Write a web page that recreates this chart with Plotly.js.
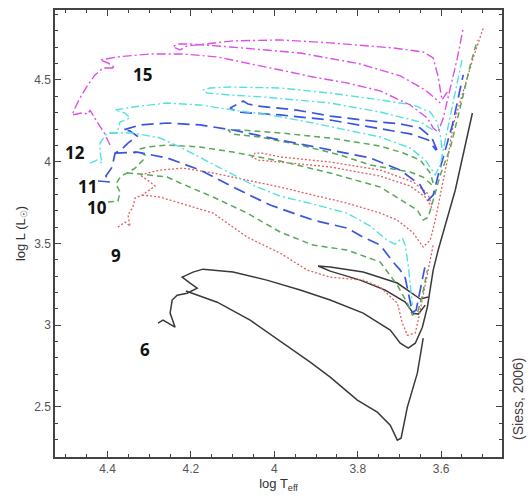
<!DOCTYPE html>
<html><head><meta charset="utf-8">
<script src="https://cdn.plot.ly/plotly-3.0.1.min.js"></script>
<style>html,body{margin:0;padding:0;background:#fff}#wrap{position:relative;width:529px;height:497px}#chart{width:529px;height:497px}#frame{position:absolute;left:54px;top:9px;width:449px;height:449px;box-sizing:border-box;border:1.5px solid #444;pointer-events:none}</style>
</head><body><div id="wrap"><div id="chart"></div><div id="frame"></div></div>
<script>
// ---- 6 Msun (black, solid)
const m6_main_T = [4.279,4.267,4.238,4.250,4.245,4.233,4.209,4.185,4.202,4.221,4.195,4.171,4.099,4.018,3.938,3.866,3.787,3.722,3.698,3.679,3.662,3.645,3.633,3.626,3.619,3.607,3.566,3.525];
const m6_main_L = [3.013,3.031,2.988,3.074,3.154,3.184,3.196,3.227,3.258,3.294,3.325,3.343,3.325,3.276,3.215,3.154,3.074,2.970,2.890,2.860,2.890,2.988,3.111,3.215,3.337,3.460,3.827,4.298];
const m6_low_T = [4.212,4.137,4.058,3.979,3.914,3.866,3.801,3.753,3.722,3.705,3.696,3.681,3.657,3.643];
const m6_low_L = [3.209,3.141,3.031,2.890,2.774,2.682,2.542,2.468,2.389,2.297,2.309,2.499,2.707,2.921];
const m6_loop_T = [3.631,3.650,3.705,3.787,3.866,3.895,3.866,3.794,3.734,3.686,3.667,3.655,3.638];
const m6_loop_L = [3.172,3.160,3.258,3.325,3.356,3.362,3.331,3.276,3.215,3.141,3.074,3.068,3.123];
// ---- 9 Msun (red, dotted)
const m9_main_T = [4.375,4.358,4.346,4.351,4.339,4.334,4.317,4.286,4.298,4.317,4.322,4.274,4.219,4.147,4.065,3.986,3.907,3.826,3.746,3.705,3.667,3.650,3.643,3.626,3.614,3.602,3.585,3.571,3.547,3.523,3.499];
const m9_main_L = [3.600,3.631,3.606,3.674,3.723,3.778,3.796,3.851,3.876,3.906,3.919,3.949,3.961,3.931,3.888,3.845,3.796,3.747,3.686,3.643,3.564,3.502,3.478,3.521,3.643,3.796,4.010,4.225,4.427,4.635,4.818];
const m9_low_T = [4.317,4.274,4.226,4.147,4.065,3.986,3.921,3.866,3.787,3.746,3.705,3.693,3.681,3.662,3.655,3.643,3.631,3.619];
const m9_low_L = [3.796,3.784,3.747,3.686,3.539,3.441,3.337,3.294,3.276,3.233,3.135,3.013,2.939,2.952,3.031,3.184,3.337,3.490];
const m9_loop_T = [3.622,3.633,3.667,3.746,3.866,3.986,4.030,4.046,4.053,4.039,3.986,3.866,3.746,3.674,3.638,3.619];
const m9_loop_L = [3.735,3.808,3.876,3.949,3.998,4.029,4.053,4.053,4.029,4.010,3.998,3.968,3.912,3.851,3.784,3.704];
// ---- 10 Msun (green, dashed)
const m10_main_T = [4.399,4.375,4.370,4.380,4.368,4.353,4.334,4.315,4.310,4.322,4.337,4.322,4.305,4.257,4.178,4.099,3.986,3.866,3.746,3.705,3.657,3.643,3.631,3.619,3.602,3.578,3.561,3.547,3.530,3.513];
const m10_main_L = [3.753,3.759,3.815,3.863,3.912,3.931,3.961,4.010,4.041,4.059,4.053,4.078,4.090,4.102,4.090,4.059,4.004,3.931,3.845,3.778,3.704,3.643,3.661,3.766,3.919,4.084,4.255,4.408,4.592,4.745];
const m10_low_T = [4.353,4.322,4.257,4.226,4.147,4.065,3.986,3.907,3.826,3.746,3.705,3.681,3.669,3.657,3.645,3.633];
const m10_low_L = [3.931,3.925,3.906,3.870,3.784,3.686,3.570,3.490,3.460,3.386,3.245,3.135,3.062,3.074,3.184,3.337];
const m10_loop_T = [3.619,3.626,3.650,3.691,3.746,3.866,3.986,4.082,4.111,4.101,4.034,3.938,3.842,3.770,3.674,3.643,3.622];
const m10_loop_L = [3.870,3.931,4.010,4.053,4.096,4.145,4.176,4.194,4.194,4.169,4.151,4.102,4.041,3.980,3.937,3.906,3.857];
// ---- 11 Msun (blue, long dashes)
const m11_main_T = [4.423,4.394,4.404,4.389,4.382,4.368,4.351,4.329,4.346,4.363,4.322,4.257,4.178,4.099,3.986,3.866,3.770,3.698,3.650,3.631,3.619,3.607,3.590,3.573,3.561,3.547];
const m11_main_L = [3.882,3.876,3.912,3.967,4.053,4.071,4.114,4.157,4.188,4.194,4.225,4.237,4.225,4.194,4.133,4.071,4.023,3.949,3.857,3.766,3.796,3.919,4.071,4.225,4.365,4.531];
const m11_low_T = [4.382,4.329,4.257,4.178,4.099,4.010,3.907,3.826,3.787,3.746,3.715,3.698,3.686,3.677,3.669,3.660,3.650,3.638];
const m11_low_L = [4.053,4.059,4.023,3.949,3.845,3.735,3.643,3.594,3.539,3.490,3.386,3.337,3.288,3.184,3.080,3.092,3.215,3.368];
const m11_loop_T = [3.610,3.622,3.650,3.698,3.746,3.866,3.946,4.041,4.063,4.075,4.087,4.106,4.090,3.986,3.866,3.746,3.674,3.631,3.612];
const m11_loop_L = [4.071,4.145,4.206,4.231,4.243,4.279,4.316,4.341,4.353,4.371,4.353,4.329,4.304,4.286,4.255,4.200,4.170,4.133,4.071];
// ---- 12 Msun (cyan, dash-dot)
const m12_main_T = [4.442,4.425,4.413,4.418,4.418,4.401,4.377,4.370,4.346,4.358,4.382,4.339,4.257,4.178,4.099,4.010,3.907,3.826,3.746,3.674,3.638,3.614,3.602,3.590,3.578,3.564,3.550];
const m12_main_L = [3.992,4.010,3.992,4.059,4.114,4.176,4.176,4.243,4.267,4.298,4.316,4.335,4.359,4.347,4.316,4.286,4.237,4.194,4.151,4.084,4.010,3.919,3.980,4.133,4.286,4.451,4.622];
const m12_low_T = [4.394,4.339,4.274,4.226,4.166,4.106,4.046,3.986,3.907,3.826,3.770,3.730,3.711,3.693,3.686,3.679,3.674,3.669];
const m12_low_L = [4.176,4.176,4.145,4.090,4.010,3.931,3.851,3.790,3.741,3.686,3.606,3.521,3.496,3.533,3.490,3.368,3.245,3.123];
const m12_loop_T = [3.598,3.602,3.610,3.626,3.667,3.746,3.866,3.986,4.106,4.154,4.171,4.161,4.106,4.027,3.866,3.746,3.650,3.619];
const m12_loop_L = [4.084,4.163,4.243,4.304,4.347,4.378,4.420,4.451,4.457,4.451,4.439,4.420,4.408,4.396,4.359,4.304,4.243,4.194];
// ---- 15 Msun (magenta, dash-dot)
const m15_main_T = [4.394,4.408,4.425,4.442,4.447,4.461,4.485,4.478,4.466,4.449,4.430,4.411,4.382,4.399,4.418,4.377,4.298,4.219,4.137,4.065,3.986,3.907,3.826,3.746,3.674,3.633,3.619,3.607,3.595,3.578,3.561,3.547];
const m15_main_L = [4.102,4.176,4.243,4.316,4.292,4.298,4.286,4.329,4.390,4.463,4.531,4.573,4.573,4.604,4.622,4.641,4.659,4.659,4.641,4.604,4.561,4.518,4.482,4.433,4.347,4.267,4.206,4.182,4.267,4.451,4.635,4.818];
const m15_loop_T = [3.585,3.598,3.607,3.619,3.643,3.715,3.866,3.986,4.099,4.209,4.226,4.243,4.233,4.202,4.106,3.938,3.794,3.698,3.638,3.602];
const m15_loop_L = [4.427,4.378,4.518,4.635,4.671,4.696,4.727,4.745,4.739,4.708,4.684,4.702,4.720,4.720,4.702,4.665,4.598,4.525,4.439,4.359];

// ---- mass labels
const labelText = ['15','12','11','10','9','6'];
const labelT = [4.317,4.478,4.449,4.425,4.380,4.310];
const labelL = [4.531,4.059,3.851,3.723,3.429,2.854];

const styles = {
  black:   {color:'#3a3a3a', width:1.5, dash:'solid'},
  red:     {color:'#e06060', width:1.3, dash:'2px,2px'},
  green:   {color:'#5aa85a', width:1.5, dash:'6px,4px'},
  blue:    {color:'#3a55e0', width:1.7, dash:'12px,6px'},
  cyan:    {color:'#55e0e0', width:1.4, dash:'8px,3px,2px,3px'},
  magenta: {color:'#dc50e6', width:1.4, dash:'9px,3px,2px,3px'}
};
function tr(x, y, s){ const st=styles[s]; return {x:x, y:y, type:'scatter', mode:'lines', line:{color:st.color, width:st.width, dash:st.dash}, showlegend:false}; }

const data = [
  tr(m6_main_T, m6_main_L, 'black'), tr(m6_low_T, m6_low_L, 'black'), tr(m6_loop_T, m6_loop_L, 'black'),
  tr(m9_main_T, m9_main_L, 'red'), tr(m9_low_T, m9_low_L, 'red'), tr(m9_loop_T, m9_loop_L, 'red'),
  tr(m10_main_T, m10_main_L, 'green'), tr(m10_low_T, m10_low_L, 'green'), tr(m10_loop_T, m10_loop_L, 'green'),
  tr(m11_main_T, m11_main_L, 'blue'), tr(m11_low_T, m11_low_L, 'blue'), tr(m11_loop_T, m11_loop_L, 'blue'),
  tr(m12_main_T, m12_main_L, 'cyan'), tr(m12_low_T, m12_low_L, 'cyan'), tr(m12_loop_T, m12_loop_L, 'cyan'),
  tr(m15_main_T, m15_main_L, 'magenta'), tr(m15_loop_T, m15_loop_L, 'magenta')
];

const annotations = labelText.map((t,i)=>({x:labelT[i], y:labelL[i], xref:'x', yref:'y', text:'<b>'+t+'</b>', showarrow:false, font:{family:'Open Sans, sans-serif', size:17, color:'#111'}}));
annotations.push({xref:'paper', yref:'paper', x:1.036, y:0.13, xanchor:'center', yanchor:'middle', text:'(Siess, 2006)', textangle:-90, showarrow:false, font:{family:'Liberation Sans, Arial, sans-serif', size:14, color:'#4a4040'}});

const tickFont = {family:'Liberation Sans, Arial, sans-serif', size:12, color:'#555'};
const titleFont = {family:'Liberation Sans, Arial, sans-serif', size:13, color:'#333'};

const layout = {
  width:529, height:497,
  margin:{l:55, r:27, t:10, b:40},
  paper_bgcolor:'#fff', plot_bgcolor:'#fff',
  hovermode:false,
  xaxis: {range:[4.526,3.454], autorange:false, tickmode:'linear', tick0:3.6, dtick:0.2,
    showgrid:false, zeroline:false, showline:true, linecolor:'#444', linewidth:1.5, mirror:'allticks',
    ticks:'inside', ticklen:6, tickwidth:1.2, tickcolor:'#444', tickfont:tickFont,
    minor:{dtick:0.05, ticks:'inside', ticklen:3, tickcolor:'#444'},
    title:{text:'log T<sub>eff</sub>', font:titleFont, standoff:4}},
  yaxis: {range:[2.194,4.928], autorange:false, tickmode:'linear', tick0:2.5, dtick:0.5,
    showgrid:false, zeroline:false, showline:true, linecolor:'#444', linewidth:1.5, mirror:'allticks',
    ticks:'inside', ticklen:6, tickwidth:1.2, tickcolor:'#444', tickfont:tickFont,
    minor:{dtick:0.1, ticks:'inside', ticklen:3, tickcolor:'#444'},
    title:{text:'log L (L<sub>☉</sub>)', font:titleFont, standoff:6}},
  annotations: annotations
};
Plotly.newPlot('chart', data, layout, {displayModeBar:false});
</script></body></html>
